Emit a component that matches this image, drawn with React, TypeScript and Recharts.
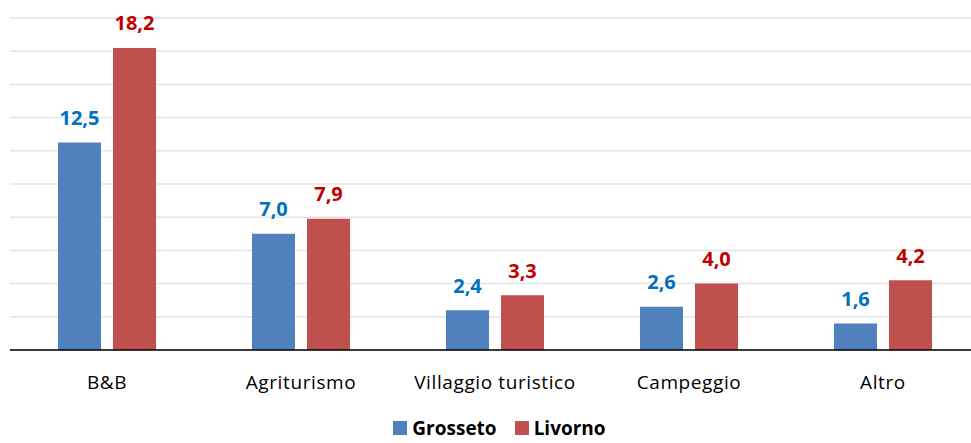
import React from "react";
import { BarChart, Bar, XAxis, YAxis, CartesianGrid, LabelList } from "recharts";

const categories = ["B&B", "Agriturismo", "Villaggio turistico", "Campeggio", "Altro"];
const grosseto = [12.5, 7.0, 2.4, 2.6, 1.6];
const livorno = [18.2, 7.9, 3.3, 4.0, 4.2];
const yTicks = [0, 2, 4, 6, 8, 10, 12, 14, 16, 18, 20];
const seriesNames = ["Grosseto", "Livorno"];
const seriesColors = ["#4F81BD", "#C0504D"];
const labelColors = ["#0070C0", "#C00000"];

const data = categories.map((c, i) => ({ name: c, Grosseto: grosseto[i], Livorno: livorno[i] }));

const FONT = "'Open Sans', 'Noto Sans', sans-serif";
const fmt = (v: number) => v.toFixed(1).replace(".", ",");

const makeLabel = (color: string) => (props: any) => {
  const { x, y, width, value } = props;
  return (
    <text x={x + width / 2} y={y - 25} textAnchor="middle" dominantBaseline="central"
      fill={color} fontFamily={FONT} fontWeight="bold" fontSize={20}>
      {fmt(value)}
    </text>
  );
};

const Tick = (props: any) => {
  const { x, y, payload } = props;
  return (
    <text x={x} y={y + 24} textAnchor="middle" dominantBaseline="central"
      fill="#000" fontFamily={FONT} fontSize={19} letterSpacing={0.6}>
      {payload.value}
    </text>
  );
};

export default function App() {
  return (
    <div style={{ position: "absolute", left: 0, top: 0, width: 971, height: 443, background: "#fff" }}>
      <BarChart width={971} height={443} data={data}
        margin={{ top: 18, right: -9, left: 10, bottom: 63 }}
        barCategoryGap={48} barGap={12}>
        <CartesianGrid horizontal vertical={false} stroke="#E4E4E4" strokeWidth={1.5} />
        <YAxis hide domain={[0, 20]} ticks={yTicks} />
        <XAxis dataKey="name" tickLine={false} axisLine={{ stroke: "#000", strokeWidth: 1.5 }} tick={<Tick />} interval={0} />
        <Bar dataKey="Grosseto" fill={seriesColors[0]} isAnimationActive={false}>
          <LabelList dataKey="Grosseto" content={makeLabel(labelColors[0])} />
        </Bar>
        <Bar dataKey="Livorno" fill={seriesColors[1]} isAnimationActive={false}>
          <LabelList dataKey="Livorno" content={makeLabel(labelColors[1])} />
        </Bar>
      </BarChart>
      <div style={{ position: "absolute", left: 0, top: 418, width: 971, height: 20, display: "flex", justifyContent: "center", alignItems: "center", fontFamily: FONT, fontWeight: "bold", fontSize: 19, lineHeight: "20px", paddingLeft: 28, boxSizing: "border-box" }}>
        {seriesNames.map((n, i) => (
          <div key={n} style={{ display: "flex", alignItems: "center", marginLeft: i ? 18 : 0 }}>
            <span style={{ width: 14, height: 14, background: seriesColors[i], display: "inline-block", marginRight: 5 }} />
            <span>{n}</span>
          </div>
        ))}
      </div>
    </div>
  );
}
